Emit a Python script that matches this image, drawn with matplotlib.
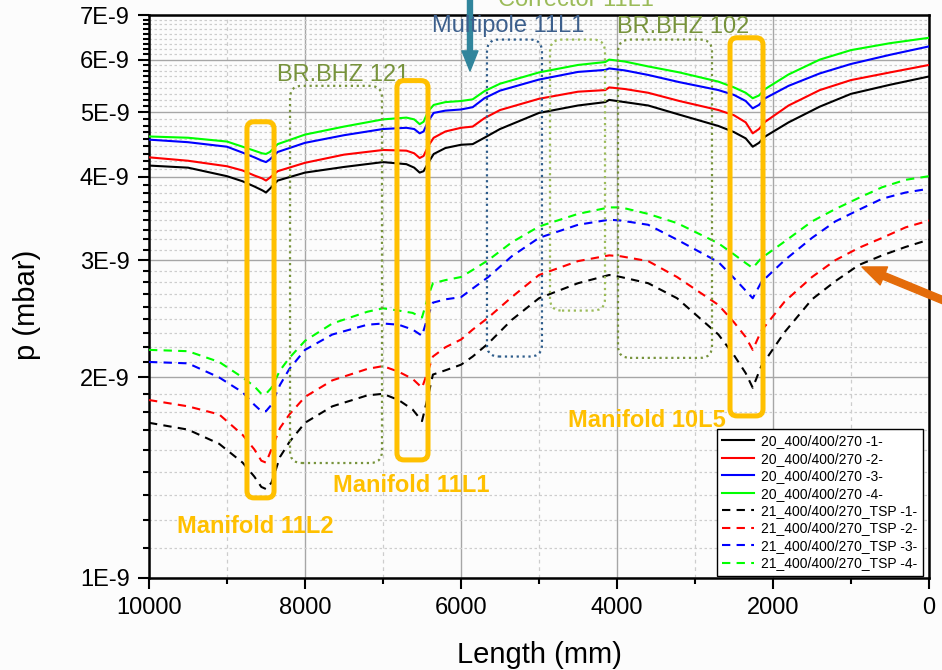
import numpy as np
import matplotlib
matplotlib.use('Agg')
import matplotlib.pyplot as plt
from matplotlib.patches import FancyBboxPatch
from matplotlib.transforms import IdentityTransform
from matplotlib.ticker import FixedLocator, NullFormatter

plt.rcParams['font.family'] = ['Liberation Sans', 'DejaVu Sans']

# posicion a lo largo de la camara (mm) y presion (en unidades de 1E-9 mbar)
L_solid = [10000, 9500, 9000, 8800, 8650, 8550, 8500, 8450, 8350, 8000, 7500, 7000,
           6700, 6600, 6530, 6480, 6420, 6350, 6200, 6000, 5850, 5700, 5500, 5000,
           4500, 4150, 4100, 3900, 3600, 3200, 2700, 2500, 2350, 2260, 2180, 2100,
           1800, 1400, 1000, 500, 0]

p20_1 = [4.16, 4.13, 4.01, 3.94, 3.87, 3.82, 3.79, 3.84, 3.95, 4.06, 4.14, 4.21,
         4.18, 4.13, 4.06, 4.08, 4.20, 4.33, 4.42, 4.47, 4.48, 4.58, 4.72, 4.99,
         5.12, 5.18, 5.22, 5.18, 5.12, 4.96, 4.77, 4.67, 4.57, 4.44, 4.50, 4.60,
         4.83, 5.10, 5.33, 5.50, 5.66]
p20_2 = [4.28, 4.23, 4.15, 4.09, 4.02, 3.98, 3.95, 3.99, 4.08, 4.20, 4.32, 4.39,
         4.38, 4.34, 4.27, 4.30, 4.45, 4.58, 4.68, 4.74, 4.76, 4.90, 5.04, 5.24,
         5.37, 5.40, 5.45, 5.42, 5.35, 5.20, 5.04, 4.95, 4.83, 4.65, 4.72, 4.84,
         5.12, 5.40, 5.59, 5.74, 5.89]
p20_3 = [4.55, 4.51, 4.44, 4.35, 4.28, 4.23, 4.21, 4.25, 4.36, 4.50, 4.62, 4.72,
         4.74, 4.72, 4.65, 4.68, 4.85, 4.99, 5.03, 5.05, 5.09, 5.25, 5.39, 5.60,
         5.75, 5.79, 5.82, 5.78, 5.69, 5.55, 5.40, 5.31, 5.20, 5.07, 5.13, 5.25,
         5.48, 5.72, 5.91, 6.10, 6.28]
p20_4 = [4.60, 4.58, 4.52, 4.44, 4.38, 4.34, 4.33, 4.36, 4.48, 4.63, 4.76, 4.88,
         4.91, 4.88, 4.80, 4.84, 5.02, 5.13, 5.18, 5.20, 5.23, 5.38, 5.52, 5.74,
         5.89, 5.95, 6.00, 5.96, 5.86, 5.74, 5.56, 5.45, 5.35, 5.25, 5.30, 5.42,
         5.70, 6.00, 6.20, 6.35, 6.47]

L_dash = [10000, 9500, 9100, 8800, 8650, 8560, 8500, 8430, 8320, 8200, 8000, 7650,
          7200, 7000, 6800, 6620, 6500, 6420, 6360, 6200, 6000, 5850, 5650, 5350,
          5000, 4500, 4100, 3950, 3600, 3230, 2700, 2500, 2350, 2260, 2150, 1850,
          1500, 1200, 900, 600, 300, 0]

p21_1 = [1.71, 1.67, 1.59, 1.49, 1.42, 1.37, 1.36, 1.39, 1.52, 1.60, 1.71, 1.81,
         1.88, 1.89, 1.85, 1.79, 1.72, 1.88, 2.02, 2.05, 2.09, 2.15, 2.25, 2.44,
         2.63, 2.77, 2.85, 2.83, 2.77, 2.63, 2.32, 2.16, 2.03, 1.93, 2.08, 2.34,
         2.62, 2.79, 2.95, 3.05, 3.14, 3.22]
p21_2 = [1.85, 1.81, 1.76, 1.64, 1.56, 1.50, 1.49, 1.56, 1.68, 1.76, 1.87, 1.98,
         2.06, 2.08, 2.04, 1.99, 1.93, 2.05, 2.15, 2.22, 2.28, 2.36, 2.46, 2.64,
         2.85, 2.99, 3.05, 3.04, 2.99, 2.83, 2.57, 2.42, 2.30, 2.20, 2.35, 2.60,
         2.83, 3.00, 3.13, 3.24, 3.36, 3.44]
p21_3 = [2.11, 2.10, 2.00, 1.90, 1.82, 1.78, 1.78, 1.82, 1.95, 2.06, 2.20, 2.32,
         2.40, 2.41, 2.40, 2.36, 2.31, 2.48, 2.59, 2.62, 2.64, 2.72, 2.83, 3.04,
         3.24, 3.39, 3.45, 3.44, 3.39, 3.22, 2.98, 2.82, 2.70, 2.63, 2.78, 3.00,
         3.24, 3.43, 3.57, 3.71, 3.79, 3.84]
p21_4 = [2.20, 2.19, 2.11, 2.00, 1.94, 1.89, 1.89, 1.93, 2.05, 2.14, 2.27, 2.41,
         2.51, 2.54, 2.52, 2.50, 2.46, 2.65, 2.77, 2.80, 2.83, 2.90, 3.00, 3.19,
         3.37, 3.52, 3.60, 3.60, 3.52, 3.41, 3.18, 3.06, 2.97, 2.92, 3.02, 3.20,
         3.43, 3.58, 3.72, 3.86, 3.96, 4.01]

labels_20 = ['20_400/400/270 -1-', '20_400/400/270 -2-', '20_400/400/270 -3-', '20_400/400/270 -4-']
labels_21 = ['21_400/400/270_TSP -1-', '21_400/400/270_TSP -2-', '21_400/400/270_TSP -3-', '21_400/400/270_TSP -4-']
colores = ['#000000', '#ff0000', '#0000ff', '#00ff00']

y_major = [1, 2, 3, 4, 5, 6, 7]
y_major_lbl = ['1E-9', '2E-9', '3E-9', '4E-9', '5E-9', '6E-9', '7E-9']
x_major = [10000, 8000, 6000, 4000, 2000, 0]
x_minor = [9000, 7000, 5000, 3000, 1000]

bg = '#fcfcfc'
fig = plt.figure(figsize=(9.42, 6.7), dpi=100, facecolor=bg)
ax = fig.add_axes([149/942, 1 - 578/670, 780/942, 563/670], facecolor=bg)

for p, c, lbl in zip([p20_1, p20_2, p20_3, p20_4], colores, labels_20):
    ax.plot(L_solid, np.array(p)*1e-9, color=c, lw=1.5, label=lbl, zorder=3)
for p, c, lbl in zip([p21_1, p21_2, p21_3, p21_4], colores, labels_21):
    ax.plot(L_dash, np.array(p)*1e-9, color=c, lw=1.5, ls=(0, (4, 3)), label=lbl, zorder=3)

ax.set_yscale('log')
ax.set_xlim(10000, 0)
ax.set_ylim(1e-9, 7e-9)

ax.set_xticks(x_major)
ax.set_xticklabels([str(v) for v in x_major])
ax.xaxis.set_minor_locator(FixedLocator(x_minor))
ax.set_yticks([v*1e-9 for v in y_major])
ax.set_yticklabels(y_major_lbl)
# 8 subdivisiones entre cada valor entero
y_minor = [(m + k/9)*1e-9 for m in range(1, 7) for k in range(1, 9)]
ax.yaxis.set_minor_locator(FixedLocator(y_minor))
ax.yaxis.set_minor_formatter(NullFormatter())
ax.xaxis.set_minor_formatter(NullFormatter())

ax.tick_params(which='major', direction='out', length=8, width=1.5, labelsize=17, pad=6,
               top=False, right=False)
ax.tick_params(which='minor', direction='out', length=4.3, width=1.5, top=False, right=False)
for s in ax.spines.values():
    s.set_linewidth(1.8)

ax.set_axisbelow(True)
ax.grid(which='major', color='#a6a6a6', lw=1.0, ls='-')
ax.grid(which='minor', axis='y', color='#cdcdcd', lw=0.9, ls=(0, (2, 2)))
ax.grid(which='minor', axis='x', color='#cdcdcd', lw=0.9, ls=(0, (3, 3)))

ax.set_xlabel('Length (mm)', fontsize=21)
ax.set_ylabel('p (mbar)', fontsize=21)
ax.xaxis.set_label_coords(0.5, -0.112)
ax.yaxis.set_label_coords(-0.138, 0.485)

leg = ax.legend(loc='lower right', bbox_to_anchor=(1 - 6/780, 2/563), fontsize=10,
                fancybox=False, edgecolor='black', facecolor='white', framealpha=1,
                labelspacing=0.25, handlelength=2.3, handletextpad=0.5,
                borderpad=0.4, borderaxespad=0)
leg.get_frame().set_linewidth(1.0)


def rbox(l0, l1, p0, p1, color, lw, ls, r):
    x0, y0 = ax.transData.transform((l0, p0*1e-9))
    x1, y1 = ax.transData.transform((l1, p1*1e-9))
    patch = FancyBboxPatch((min(x0, x1), min(y0, y1)), abs(x1 - x0), abs(y1 - y0),
                           boxstyle=f"round,pad=0,rounding_size={r}",
                           transform=IdentityTransform(), fill=False,
                           edgecolor=color, lw=lw, ls=ls, clip_on=False, zorder=5)
    fig.add_artist(patch)


naranja = '#ffc000'
oliva = '#77933c'
verde = '#9bbb59'
azul = '#2e5c8a'

# manifolds
rbox(8744, 8397, 1.319, 4.84, naranja, 3.6, '-', 7)
rbox(6821, 6423, 1.504, 5.58, naranja, 3.6, '-', 7)
rbox(2551, 2128, 1.751, 6.47, naranja, 3.6, '-', 7)
# imanes y correctores
rbox(8192, 7013, 1.488, 5.48, oliva, 1.6, ':', 12)
rbox(4859, 4154, 2.52, 6.43, verde, 1.6, ':', 12)
rbox(3987, 2782, 2.14, 6.43, oliva, 1.6, ':', 12)
rbox(5667, 4962, 2.15, 6.43, azul, 1.6, ':', 12)

txt = dict(fontsize=17, ha='left', va='baseline', clip_on=False, zorder=6)
ax.text(9641, 1.169e-9, 'Manifold 11L2', color=naranja, fontweight='bold', **txt)
ax.text(7641, 1.346e-9, 'Manifold 11L1', color=naranja, fontweight='bold', **txt)
ax.text(4628, 1.685e-9, 'Manifold 10L5', color=naranja, fontweight='bold', **txt)
ax.text(8359, 5.58e-9, 'BR.BHZ 121', color=oliva, **txt)
ax.text(4000, 6.58e-9, 'BR.BHZ 102', color=oliva, **txt)
ax.text(6372, 6.60e-9, 'Multipole 11L1', color='#3c5f8c', **txt)
ax.text(5526, 7.22e-9, 'Corrector 11L1', color=verde, **txt)

ax.annotate('', xy=(5885, 5.77e-9), xytext=(5885, 7.8e-9), annotation_clip=False,
            arrowprops=dict(arrowstyle='simple,head_length=1.44,head_width=1.15,tail_width=0.36',
                            color='#31859c', shrinkA=0, shrinkB=0, mutation_scale=10,
                            clip_on=False))
ax.annotate('', xy=(859, 2.93e-9), xytext=(-220, 2.60e-9), annotation_clip=False,
            arrowprops=dict(arrowstyle='simple,head_length=1.7,head_width=1.4,tail_width=0.5',
                            color='#e46c0a', shrinkA=0, shrinkB=0, mutation_scale=10,
                            clip_on=False))

fig.savefig('out.png', dpi=100, facecolor=bg)
